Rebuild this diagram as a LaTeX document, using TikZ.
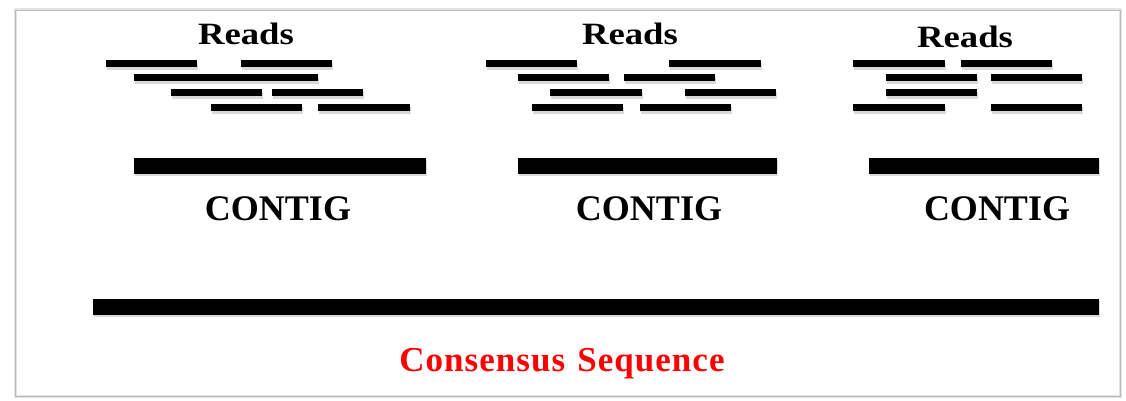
\documentclass[tikz,border=0pt]{standalone}
\usepackage{fontspec}
\setmainfont{Liberation Serif}
\usetikzlibrary{shadows}
\begin{document}
\begin{tikzpicture}[x=1pt,y=-1pt,
  bar/.style={fill=black, drop shadow={opacity=0.3, shadow xshift=1.2pt, shadow yshift=-2.4pt}},
  title/.style={font=\bfseries\fontsize{31}{36}\selectfont, anchor=base, inner sep=0pt},
  label/.style={font=\bfseries\fontsize{36}{42}\selectfont, anchor=base, inner sep=0pt},
  seqlabel/.style={font=\bfseries\fontsize{35}{40}\selectfont\addfontfeature{LetterSpace=3}, text=red, anchor=base, inner sep=0pt}]
\useasboundingbox (0,0) rectangle (1126,401);
% outer frame with soft edge
\draw[gray!20, line width=3pt] (15,10) rectangle (1120,396);
\draw[gray!55, line width=0.8pt] (15,10) rectangle (1120,396);
% read bars: x-start, x-end, row centre
\newcommand\readbar[3]{\path[bar] (#1,#3-3.5) rectangle (#2,#3+3.5);}
% group 1
\readbar{106}{197}{64}   \readbar{241}{332}{64}
\readbar{134}{225}{78}   \readbar{225}{318}{78}
\readbar{171}{262}{93}   \readbar{272}{363}{93}
\readbar{211}{302}{108}  \readbar{318}{410}{108}
% group 2
\readbar{486}{577}{64}   \readbar{669}{761}{64}
\readbar{518}{609}{78}   \readbar{624}{715}{78}
\readbar{550}{642}{93}   \readbar{685}{776}{93}
\readbar{532}{623}{108}  \readbar{640}{731}{108}
% group 3
\readbar{853}{945}{64}   \readbar{961}{1052}{64}
\readbar{886}{977}{78}   \readbar{991}{1082}{78}
\readbar{886}{977}{93}
\readbar{853}{945}{108}  \readbar{991}{1082}{108}
% contigs
\path[bar] (134,158) rectangle (426,174);
\path[bar] (518,158) rectangle (777,174);
\path[bar] (869,158) rectangle (1099,174);
% consensus
\path[bar] (93,299) rectangle (1099,315);
% labels (the read titles are set slightly wide)
\node[title] (r1) at (246,45) {\scalebox{1.185}[1]{Reads}};
\node[title] (r2) at (630,45) {\scalebox{1.185}[1]{Reads}};
\node[title] (r3) at (965,48) {\scalebox{1.185}[1]{Reads}};
\node[label] (c1) at (278,220) {CONTIG};
\node[label] (c2) at (649,220) {CONTIG};
\node[label] (c3) at (997,220) {CONTIG};
\node[seqlabel] (cs) at (562,371) {Consensus\hspace{12pt}Sequence};
\end{tikzpicture}
\end{document}
